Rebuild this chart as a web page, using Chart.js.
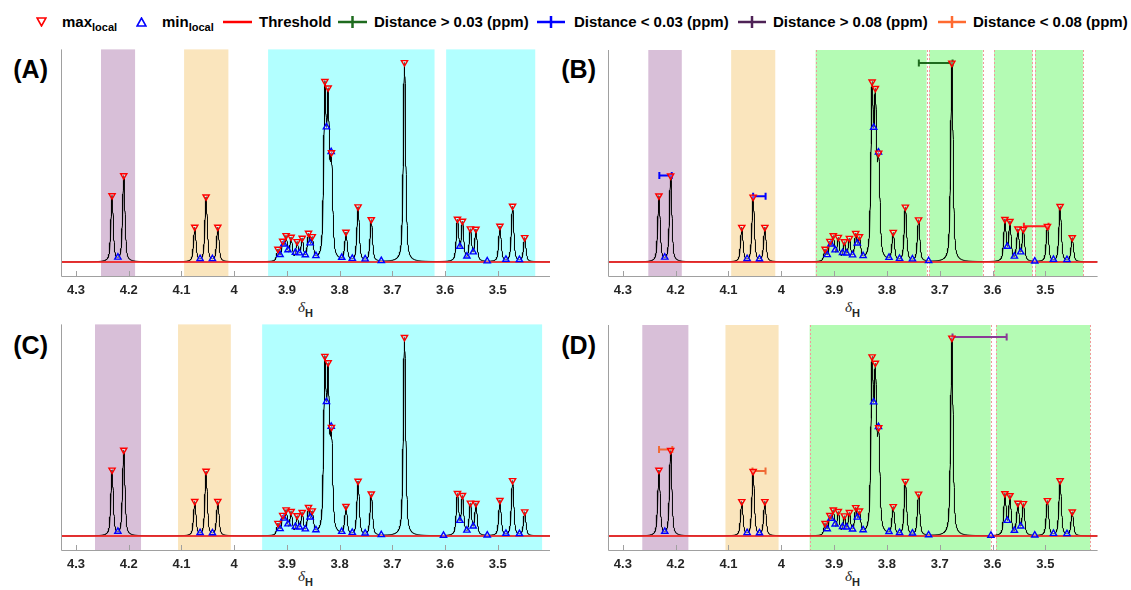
<!DOCTYPE html>
<html>
<head>
<meta charset="utf-8">
<script src="https://cdn.jsdelivr.net/npm/chart.js@4.4.1/dist/chart.umd.min.js"></script>
<style>
  body { margin: 0; width: 1131px; height: 590px; background: #fff; position: relative; overflow: hidden;
         font-family: Arial, "Liberation Sans", Helvetica, sans-serif; }
  canvas { position: absolute; }
  .lg { position: absolute; top: 13px; font-weight: bold; font-size: 15px; line-height: 18px; color: #000; white-space: nowrap; }
  .lg sub { font-size: 11px; vertical-align: -4px; line-height: 0; }
  .ico { position: absolute; }
  .plab { position: absolute; font-weight: bold; font-size: 25px; line-height: 25px; width: 60px; text-align: right; }
  .xt { position: absolute; white-space: nowrap; line-height: 14px; color: #262626; }
  .xt i { font-family: "Liberation Serif", "DejaVu Serif", serif; font-size: 15px; }
  .xt sub { font-weight: bold; font-size: 11px; vertical-align: -5px; line-height: 0; }
</style>
</head>
<body>

<!-- legend -->
<svg class="ico" style="left:36px;top:17px" width="11" height="10"><polygon points="1,1 10,1 5.5,9" fill="none" stroke="#ff0000" stroke-width="1.6"/></svg>
<div class="lg" style="left:62px">max<sub>local</sub></div>
<svg class="ico" style="left:136px;top:17px" width="11" height="10"><polygon points="1,9 10,9 5.5,1" fill="none" stroke="#0000ff" stroke-width="1.6"/></svg>
<div class="lg" style="left:162px">min<sub>local</sub></div>
<svg class="ico" style="left:223px;top:15px" width="29" height="14"><line x1="0" y1="7" x2="29" y2="7" stroke="#ff0000" stroke-width="2.5"/></svg>
<div class="lg" style="left:259px">Threshold</div>
<svg class="ico" style="left:338px;top:15px" width="29" height="14"><line x1="0" y1="7" x2="29" y2="7" stroke="#1e6b1e" stroke-width="2.5"/><line x1="14.5" y1="1" x2="14.5" y2="13" stroke="#1e6b1e" stroke-width="2.5"/></svg>
<div class="lg" style="left:374px">Distance &gt; 0.03 (ppm)</div>
<svg class="ico" style="left:537px;top:15px" width="28" height="14"><line x1="0" y1="7" x2="28" y2="7" stroke="#0000ff" stroke-width="2.5"/><line x1="14" y1="1" x2="14" y2="13" stroke="#0000ff" stroke-width="2.5"/></svg>
<div class="lg" style="left:574px">Distance &lt; 0.03 (ppm)</div>
<svg class="ico" style="left:738px;top:15px" width="28" height="14"><line x1="0" y1="7" x2="28" y2="7" stroke="#4e2256" stroke-width="2.5"/><line x1="14" y1="1" x2="14" y2="13" stroke="#4e2256" stroke-width="2.5"/></svg>
<div class="lg" style="left:773px">Distance &gt; 0.08 (ppm)</div>
<svg class="ico" style="left:938px;top:15px" width="28" height="14"><line x1="0" y1="7" x2="28" y2="7" stroke="#ff6a30" stroke-width="2.5"/><line x1="14" y1="1" x2="14" y2="13" stroke="#ff6a30" stroke-width="2.5"/></svg>
<div class="lg" style="left:973px">Distance &lt; 0.08 (ppm)</div>

<div class="plab" style="left:-12px;top:57px">(A)</div>
<div class="plab" style="left:536px;top:57px">(B)</div>
<div class="plab" style="left:-12px;top:333px">(C)</div>
<div class="plab" style="left:536px;top:333px">(D)</div>

<div class="xt" style="left:298px;top:300px"><i>δ</i><sub>H</sub></div>
<div class="xt" style="left:845px;top:300px"><i>δ</i><sub>H</sub></div>
<div class="xt" style="left:298px;top:569px"><i>δ</i><sub>H</sub></div>
<div class="xt" style="left:845px;top:569px"><i>δ</i><sub>H</sub></div>

<canvas id="chartA" width="560" height="262" style="left:0px;top:44px"></canvas>
<canvas id="chartB" width="545" height="262" style="left:565px;top:44px"></canvas>
<canvas id="chartC" width="560" height="261" style="left:0px;top:319px"></canvas>
<canvas id="chartD" width="545" height="261" style="left:565px;top:319px"></canvas>

<script>
// ---- data (ppm, normalised intensity) ----
const peakPpm = [4.2317, 4.2095, 4.0748, 4.0533, 4.0311, 3.917, 3.908, 3.9015, 3.892, 3.8806, 3.871, 3.859, 3.852,
                 3.828, 3.8218, 3.8155, 3.788, 3.765, 3.740, 3.677, 3.5765, 3.567, 3.552, 3.5415, 3.496, 3.472, 3.449];
const peakHeight = [0.333, 0.433, 0.175, 0.327, 0.175, 0.065, 0.105, 0.133, 0.125, 0.103, 0.12, 0.145, 0.128,
                    0.905, 0.873, 0.548, 0.15, 0.277, 0.213, 1.0, 0.215, 0.205, 0.167, 0.165, 0.18, 0.28, 0.123];
const minPpm = [4.2206, 4.0647, 4.0413, 3.913, 3.906, 3.898, 3.884, 3.8763, 3.865, 3.856, 3.845, 3.825, 3.816,
                3.796, 3.776, 3.7516, 3.721, 3.572, 3.5586, 3.5466, 3.520, 3.4846, 3.459];
const minPpmExtraCD = [3.603];
const thresholdLevel = 0;
const tickValues = [4.3, 4.2, 4.1, 4, 3.9, 3.8, 3.7, 3.6, 3.5];

// shaded bins [from ppm, to ppm, kind]
const regionsA = [[4.2526, 4.188, 'purple'], [4.095, 4.011, 'orange'], [3.9357, 3.620, 'cyan'], [3.598, 3.429, 'cyan']];
const regionsB = [[4.2518, 4.1884, 'purple'], [4.0949, 4.0114, 'orange'], [3.935, 3.7248, 'green'],
                  [3.7198, 3.6186, 'green'], [3.5972, 3.5243, 'green'], [3.5194, 3.4283, 'green']];
const regionsC = [[4.264, 4.1767, 'purple'], [4.1065, 4.0064, 'orange'], [3.947, 3.416, 'cyan']];
const regionsD = [[4.2632, 4.1759, 'purple'], [4.1057, 4.0051, 'orange'], [3.9463, 3.6034, 'green'], [3.5933, 3.415, 'green']];

// distance bars [from ppm, to ppm, level, kind]
const barsB = [[4.2309, 4.2074, 0.435, 'blue'], [4.0533, 4.0297, 0.33, 'blue'], [3.7395, 3.6756, 1.0, 'green'], [3.5406, 3.4939, 0.18, 'red']];
const barsD = [[4.2315, 4.2063, 0.437, 'orange'], [4.0545, 4.0298, 0.328, 'orange'], [3.6757, 3.5732, 1.005, 'purple']];

const regionColor = { purple: '#d8bfd8', orange: '#fae5bd', cyan: '#b2ffff', green: '#b4fbb4' };
const barColor = { blue: '#0000ff', green: '#1e6b1e', red: '#ff2020', orange: '#f06a35', purple: '#8a3a96' };

// ---- pseudo-voigt line shape through the peak list ----
const HW = 0.0027, ETA = 0.55;
function shape(x, c) {
  const d = (x - c) / HW;
  return ETA / (1 + d * d) + (1 - ETA) * Math.exp(-0.6931 * d * d);
}
let amp = peakHeight.slice();
for (let it = 0; it < 80; it++) {
  amp = amp.map((a, i) => {
    let s = 0;
    for (let j = 0; j < peakPpm.length; j++) s += amp[j] * shape(peakPpm[i], peakPpm[j]);
    return Math.max(0, a + 0.8 * (peakHeight[i] - s));
  });
}
function spec(x) {
  let s = 0;
  for (let j = 0; j < peakPpm.length; j++) s += amp[j] * shape(x, peakPpm[j]);
  return s;
}

const xMin = 3.401, xMax = 4.3285;
let xs = [];
for (let x = xMin; x <= xMax; x += 0.0002) xs.push(x);
xs = xs.concat(peakPpm).sort((a, b) => a - b);
const spectrum = xs.map(x => ({ x: x, y: spec(x) }));

// ---- plugins ----
const regionsPlugin = {
  id: 'regions',
  beforeDatasetsDraw(chart, args, opts) {
    const { ctx, chartArea: a, scales: { x } } = chart;
    ctx.save();
    opts.list.forEach(r => {
      const p1 = x.getPixelForValue(r[0]), p2 = x.getPixelForValue(r[1]);
      ctx.fillStyle = regionColor[r[2]];
      ctx.fillRect(p1, a.top, p2 - p1, a.bottom - a.top);
    });
    ctx.strokeStyle = '#f09a9a';
    ctx.lineWidth = 1;
    ctx.setLineDash([2, 2]);
    opts.list.filter(r => r[2] === 'green').forEach(r => {
      [r[0], r[1]].forEach(v => {
        const p = Math.round(x.getPixelForValue(v)) + 0.5;
        ctx.beginPath(); ctx.moveTo(p, a.top); ctx.lineTo(p, a.bottom); ctx.stroke();
      });
    });
    ctx.restore();
  }
};

const axesPlugin = {
  id: 'axesLines',
  afterDraw(chart) {
    const { ctx, chartArea: a, scales: { x } } = chart;
    ctx.save();
    ctx.strokeStyle = '#a0a0a0';
    ctx.lineWidth = 1;
    ctx.beginPath();
    ctx.moveTo(Math.round(a.left) + 0.5, a.top);
    ctx.lineTo(Math.round(a.left) + 0.5, Math.round(a.bottom) + 0.5);
    ctx.lineTo(a.right, Math.round(a.bottom) + 0.5);
    x.ticks.forEach(t => {
      const px = Math.round(x.getPixelForValue(t.value)) + 0.5;
      ctx.moveTo(px, a.bottom);
      ctx.lineTo(px, a.bottom - 5);
    });
    ctx.stroke();
    ctx.restore();
  }
};

function makeChart(id, regions, bars, extraMins, padLeft, padRight) {
  const mins = minPpm.concat(extraMins);
  const datasets = [
    { data: peakPpm.map(p => ({ x: p, y: spec(p) })), showLine: false, pointStyle: 'triangle', rotation: 180,
      pointRadius: 3.6, pointBorderColor: '#ff0000', pointBackgroundColor: 'rgba(255,255,255,0.35)', pointBorderWidth: 1.4 },
    { data: mins.map(p => ({ x: p, y: spec(p) })), showLine: false, pointStyle: 'triangle', rotation: 0,
      pointRadius: 3.6, pointBorderColor: '#0000ff', pointBackgroundColor: 'rgba(255,255,255,0.35)', pointBorderWidth: 1.4 }
  ];
  bars.forEach(b => {
    datasets.push({ data: [{ x: b[0], y: b[2] }, { x: b[1], y: b[2] }], borderColor: barColor[b[3]], borderWidth: 2,
      pointStyle: 'line', rotation: 90, pointRadius: 3.5, pointBorderWidth: 2, pointBorderColor: barColor[b[3]] });
  });
  datasets.push({ data: [{ x: xMin, y: thresholdLevel }, { x: xMax, y: thresholdLevel }], borderColor: 'rgba(240,30,30,0.85)',
    borderWidth: 2, pointRadius: 0 });
  datasets.push({ data: spectrum, borderColor: '#000', borderWidth: 1, pointRadius: 0 });

  return new Chart(document.getElementById(id), {
    type: 'line',
    data: { datasets: datasets },
    options: {
      responsive: false,
      animation: false,
      parsing: false,
      normalized: true,
      layout: { padding: { left: padLeft, right: padRight, top: 5, bottom: 0 } },
      elements: { line: { tension: 0 } },
      plugins: { legend: { display: false }, tooltip: { enabled: false }, regions: { list: regions } },
      scales: {
        x: {
          type: 'linear', reverse: true, min: xMin, max: xMax,
          afterBuildTicks: s => { s.ticks = tickValues.map(v => ({ value: v })); },
          afterFit: s => { s.height = 30; },
          grid: { display: false, drawTicks: false },
          border: { display: false },
          ticks: { padding: 7, color: '#262626', font: { family: 'Arial, "Liberation Sans", sans-serif', size: 13, weight: 'bold' },
                   maxRotation: 0, autoSkip: false, callback: v => String(Math.round(v * 10) / 10) }
        },
        y: { type: 'linear', display: false, min: -0.07, max: 1.065 }
      }
    },
    plugins: [regionsPlugin, axesPlugin]
  });
}

makeChart('chartA', regionsA, [], [], 61, 10);
makeChart('chartB', regionsB, barsB, [], 42.8, 12.4);
makeChart('chartC', regionsC, [], minPpmExtraCD, 61, 10);
makeChart('chartD', regionsD, barsD, minPpmExtraCD, 42.8, 12.4);
</script>
</body>
</html>
